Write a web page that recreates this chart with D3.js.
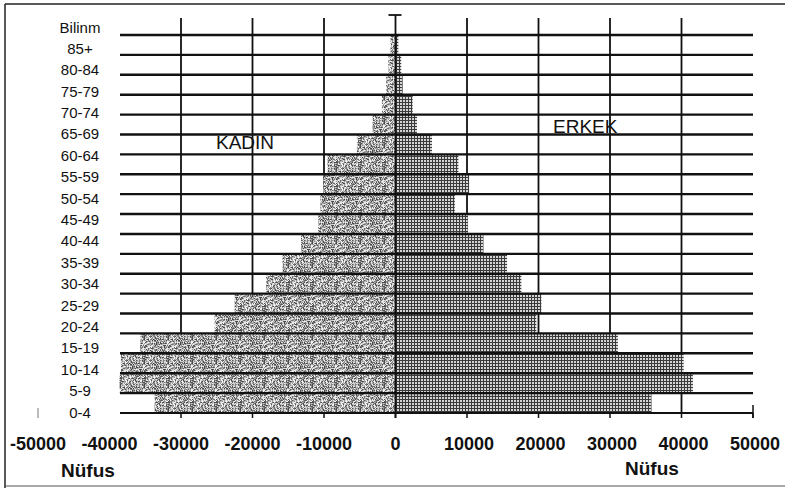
<!DOCTYPE html>
<html>
<head>
<meta charset="utf-8">
<script src="https://cdn.jsdelivr.net/npm/d3@7/dist/d3.min.js"></script>
<style>
html,body{margin:0;padding:0;background:#fff;}
svg{display:block;}
text{font-family:"Liberation Sans",Arial,sans-serif;fill:#111;}
</style>
</head>
<body>
<script>
// ---- data ----
const categories = ["Bilinm","85+","80-84","75-79","70-74","65-69","60-64","55-59","50-54","45-49","40-44","35-39","30-34","25-29","20-24","15-19","10-14","5-9","0-4"];
const kadin = [-700,-1000,-1300,-1900,-3200,-5400,-9500,-10100,-10500,-10800,-13200,-15800,-18100,-22500,-25300,-35700,-38400,-38600,-33700];
const erkek = [400,800,1000,2400,3000,5100,8800,10300,8300,10100,12300,15600,17600,20400,19700,31100,40300,41600,35800];
const xTicks = [-50000,-40000,-30000,-20000,-10000,0,10000,20000,30000,40000,50000];
const gridVals = [-30000,-20000,-10000,10000,20000,30000,40000];
const axisTitle = "Nüfus";

// ---- layout ----
const W = 785, H = 488;
const svg = d3.select("body").append("svg").attr("width", W).attr("height", H);

const x = d3.scaleLinear().domain([-50000, 50000]).range([38, 753]);
const plotLeft = 120, plotRight = x(50000), plotTop = 35, plotBottom = 413;
const y = d3.scaleBand().domain(categories).range([plotTop, plotBottom]).padding(0);
const yLab = d3.scalePoint().domain(categories).range([27, 412]);

// patterns (scanned halftone look)
const defs = svg.append("defs");
const N = 24;
const pf = defs.append("pattern").attr("id","pf").attr("patternUnits","userSpaceOnUse").attr("width",N).attr("height",N);
pf.append("rect").attr("width",N).attr("height",N).attr("fill","#b4b4b4");
const shades = ["#4a4a4a","#707070","#949494","#b6b6b6","#d8d8d8","#f0f0f0"];
for (let i = 0; i < N; i++) for (let j = 0; j < N; j++) {
  let h = Math.imul(i + 1, 374761393) ^ Math.imul(j + 7, 668265263);
  h = Math.imul(h ^ (h >>> 13), 1274126177);
  h = (h ^ (h >>> 16)) >>> 0;
  pf.append("rect").attr("x",i).attr("y",j).attr("width",1).attr("height",1).attr("fill",shades[h % 6]);
}
const pm = defs.append("pattern").attr("id","pm").attr("patternUnits","userSpaceOnUse").attr("width",3).attr("height",3);
pm.append("rect").attr("width",3).attr("height",3).attr("fill","#d4d4d4");
pm.append("rect").attr("width",3).attr("height",1).attr("fill","#3a3a3a");
pm.append("rect").attr("width",1).attr("height",3).attr("fill","#3a3a3a");

// frame
svg.append("line").attr("x1",5).attr("x2",W).attr("y1",4).attr("y2",4).attr("stroke","#222").attr("stroke-width",1.5);
svg.append("line").attr("x1",5).attr("x2",5).attr("y1",4).attr("y2",H).attr("stroke","#222").attr("stroke-width",1.5);
svg.append("line").attr("x1",5).attr("x2",W).attr("y1",486).attr("y2",486).attr("stroke","#555").attr("stroke-width",1.2);

// vertical gridlines (behind bars)
svg.append("g").selectAll("line").data(gridVals).join("line")
  .attr("x1",d=>x(d)).attr("x2",d=>x(d)).attr("y1",18).attr("y2",plotBottom)
  .attr("stroke","#111").attr("stroke-width",1.8);

// bars
svg.append("g").selectAll("rect").data(categories).join("rect")
  .attr("x",(d,i)=>x(kadin[i])).attr("width",(d,i)=>x(0)-x(kadin[i]))
  .attr("y",d=>y(d)).attr("height",y.bandwidth()).attr("fill","url(#pf)");
svg.append("g").selectAll("rect").data(categories).join("rect")
  .attr("x",x(0)).attr("width",(d,i)=>x(erkek[i])-x(0))
  .attr("y",d=>y(d)).attr("height",y.bandwidth()).attr("fill","url(#pm)");

// horizontal gridlines (on top)
svg.append("g").selectAll("line").data(categories).join("line")
  .attr("x1",plotLeft).attr("x2",plotRight).attr("y1",d=>y(d)).attr("y2",d=>y(d))
  .attr("stroke","#111").attr("stroke-width",2.4);

// bottom axis line
svg.append("line").attr("x1",plotLeft).attr("x2",plotRight).attr("y1",plotBottom).attr("y2",plotBottom).attr("stroke","#111").attr("stroke-width",2.2);
svg.append("g").selectAll("line").data(xTicks.filter(v=>x(v)>=plotLeft)).join("line")
  .attr("x1",d=>x(d)).attr("x2",d=>x(d)).attr("y1",plotBottom).attr("y2",418)
  .attr("stroke","#111").attr("stroke-width",1.5);
svg.append("line").attr("x1",x(50000)).attr("x2",x(50000)).attr("y1",405).attr("y2",418).attr("stroke","#111").attr("stroke-width",1.5);
svg.append("line").attr("x1",x(-50000)).attr("x2",x(-50000)).attr("y1",408).attr("y2",418).attr("stroke","#777").attr("stroke-width",1);

// zero axis with cap
svg.append("line").attr("x1",x(0)).attr("x2",x(0)).attr("y1",15).attr("y2",418).attr("stroke","#111").attr("stroke-width",1.8);
svg.append("line").attr("x1",x(0)-7).attr("x2",x(0)+6).attr("y1",15).attr("y2",15).attr("stroke","#111").attr("stroke-width",1.8);

// category labels
svg.append("g").selectAll("text").data(categories).join("text")
  .attr("x",80).attr("y",d=>yLab(d)+5.5).attr("text-anchor","middle")
  .style("font-size","15px").text(d=>d);

// x tick labels
svg.append("g").selectAll("text").data(xTicks).join("text")
  .attr("x",d=>x(d)+ (d>0?2:0)).attr("y",450).attr("text-anchor","middle")
  .style("font-size","18px").style("font-weight","bold").text(d=>d);

// axis titles
svg.append("text").attr("x",61).attr("y",477).style("font-size","19px").style("font-weight","bold").text(axisTitle);
svg.append("text").attr("x",625).attr("y",475).style("font-size","19px").style("font-weight","bold").text(axisTitle);

// series labels
svg.append("text").attr("x",216).attr("y",149).style("font-size","19px").text("KADIN");
svg.append("text").attr("x",553).attr("y",133).style("font-size","19px").text("ERKEK");
</script>
</body>
</html>
